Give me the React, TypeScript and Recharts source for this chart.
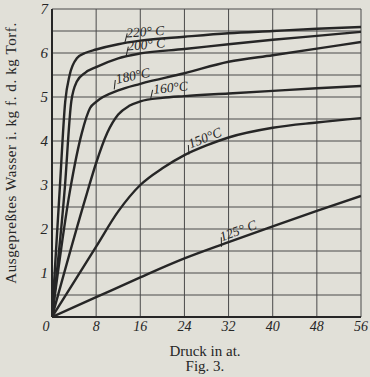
import { LineChart, Line, XAxis, YAxis, CartesianGrid, ReferenceDot, ReferenceLine } from "recharts";

// Druck (at) ticks and water ticks (half steps for the grid)
const xTicks = [0, 8, 16, 24, 32, 40, 48, 56];
const yTicks = [0, 1, 2, 3, 4, 5, 6, 7];
const yGrid = [0.5, 1, 1.5, 2, 2.5, 3, 3.5, 4, 4.5, 5, 5.5, 6, 6.5, 7];

// [Druck, Wasser]
const t220 = [[0, 0], [1.4, 2.9], [2.4, 4.9], [3.2, 5.5], [4.5, 5.88], [6, 6.0], [8, 6.08], [12, 6.2], [16, 6.28], [24, 6.37], [32, 6.45], [40, 6.5], [48, 6.55], [56, 6.59]];
const t200 = [[0, 0], [2.3, 2.9], [3.5, 4.9], [4.5, 5.35], [6, 5.55], [8, 5.68], [12, 5.88], [16, 5.99], [24, 6.09], [32, 6.2], [40, 6.3], [48, 6.39], [56, 6.48]];
const t180 = [[0, 0], [3.3, 2.9], [5.4, 4.18], [6.9, 4.75], [8, 4.89], [12, 5.15], [16, 5.3], [24, 5.54], [32, 5.8], [40, 5.95], [48, 6.1], [56, 6.25]];
const t160 = [[0, 0], [6.3, 2.8], [8, 3.5], [10, 4.18], [12, 4.6], [14, 4.8], [16, 4.9], [20, 4.98], [24, 5.02], [32, 5.08], [40, 5.14], [48, 5.2], [56, 5.25]];
const t150 = [[0, 0], [8, 1.6], [12, 2.4], [16, 3.0], [20, 3.38], [24, 3.68], [28, 3.9], [32, 4.08], [40, 4.3], [48, 4.42], [56, 4.52]];
const t125 = [[0, 0], [8, 0.45], [16, 0.9], [24, 1.33], [32, 1.7], [40, 2.06], [48, 2.41], [56, 2.75]];

const series = [t220, t200, t180, t160, t150, t125];

// curve labels: text, x, y (data units), angle
const curveLabels: [string, number, number, number][] = [
  ["220° C", 16.9, 6.45, -4],
  ["200° C", 17.1, 6.16, -5],
  ["180°C", 14.7, 5.45, -12],
  ["160°C", 21.5, 5.18, -6],
  ["150°C", 27.8, 4.04, -22],
  ["125° C", 33.8, 1.93, -20],
];

const ink = "#262626";
const gridInk = "#4a4a4a";
const paper = "#e1e0d8";
const serif = "'Liberation Serif', 'DejaVu Serif', serif";

const toPoints = (arr: number[][]) => arr.map(([x, y]) => ({ x, y }));

const XTick = (props: any) => {
  const { x, y, payload } = props;
  const dx = payload.value === 0 ? -6 : 0;
  return (
    <text x={x + dx} y={y + 10} textAnchor="middle" fill={ink} fontSize={14} fontStyle="italic" fontFamily={serif}>
      {payload.value}
    </text>
  );
};

const YTick = (props: any) => {
  const { x, y, payload } = props;
  const v = payload.value;
  if (v === 0) return null;
  return (
    <text x={x} y={y + 5} textAnchor="end" fill={ink} fontSize={15} fontStyle="italic" fontFamily={serif}>
      {v}
    </text>
  );
};

const CurveLabel = (text: string, angle: number) => (props: any) => {
  const { cx, cy } = props;
  return (
    <g transform={`rotate(${angle}, ${cx}, ${cy})`}>
      <line x1={cx - 21} y1={cy + 8} x2={cx - 18} y2={cy - 1} stroke={ink} strokeWidth={1} />
      <text x={cx} y={cy + 3} textAnchor="middle" fill={ink} fontSize={13.5} fontStyle="italic" fontFamily={serif}>
        {text}
      </text>
    </g>
  );
};

export default function App() {
  return (
    <div style={{ position: "absolute", left: 0, top: 0, width: 370, height: 377, background: paper, fontFamily: serif }}>
      <LineChart width={370} height={377} margin={{ top: 9, right: 9, left: 0, bottom: 30 }}>
        <CartesianGrid stroke={gridInk} strokeWidth={1} horizontal={false} />
        {yGrid.map((v) => (
          <ReferenceLine key={v} y={v} stroke={gridInk} strokeWidth={1} />
        ))}
        <XAxis
          type="number"
          dataKey="x"
          domain={[0, 56]}
          ticks={xTicks}
          interval={0}
          allowDataOverflow
          axisLine={{ stroke: ink, strokeWidth: 2 }}
          tickLine={false}
          tickSize={2}
          tickMargin={2}
          tick={<XTick />}
          height={30}
        />
        <YAxis
          type="number"
          domain={[0, 7]}
          ticks={yTicks}
          interval={0}
          allowDataOverflow
          axisLine={{ stroke: ink, strokeWidth: 2 }}
          tickLine={false}
          tickSize={2}
          tickMargin={2}
          tick={<YTick />}
          width={52}
          label={{
            content: () => (
              <text
                x={13}
                y={153}
                transform="rotate(-90, 13, 153)"
                textAnchor="middle"
                dominantBaseline="middle"
                fill={ink}
                fontSize={15}
                letterSpacing={0.6}
                fontFamily={serif}
              >
                Ausgepreßtes Wasser i. kg f. d. kg Torf.
              </text>
            ),
          }}
        />
        {series.map((s, i) => (
          <Line
            key={i}
            data={toPoints(s)}
            dataKey="y"
            type="monotone"
            stroke={ink}
            strokeWidth={2.4}
            dot={false}
            isAnimationActive={false}
          />
        ))}
        {curveLabels.map(([text, x, y, angle]) => (
          <ReferenceDot key={text} x={x} y={y} r={0} shape={CurveLabel(text, angle)} ifOverflow="visible" />
        ))}
      </LineChart>
      <div style={{ position: "absolute", left: 0, width: 410, top: 344, textAlign: "center", fontSize: 15, color: ink, lineHeight: "15px" }}>
        Druck in at.
        <br />
        Fig. 3.
      </div>
    </div>
  );
}
